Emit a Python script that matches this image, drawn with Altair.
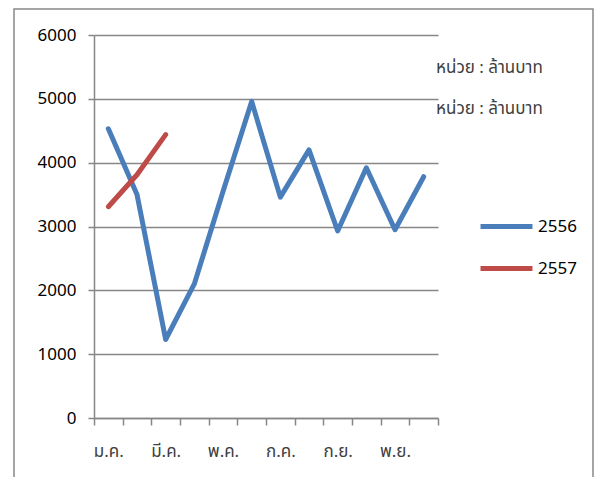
import altair as alt
import pandas as pd

months = ["ม.ค.", "ก.พ.", "มี.ค.", "เม.ย.", "พ.ค.", "มิ.ย.",
          "ก.ค.", "ส.ค.", "ก.ย.", "ต.ค.", "พ.ย.", "ธ.ค."]
shown_months = ["ม.ค.", "มี.ค.", "พ.ค.", "ก.ค.", "ก.ย.", "พ.ย."]
values_2556 = [4530, 3500, 1230, 2100, 3550, 4960, 3460, 4200, 2930, 3920, 2950, 3780]
values_2557 = [3310, 3810, 4440]
series_names = ["2556", "2557"]
series_colors = ["#4a7ebb", "#be4b48"]
y_ticks = [0, 1000, 2000, 3000, 4000, 5000, 6000]
unit_texts = ["หน่วย : ล้านบาท", "หน่วย : ล้านบาท"]

rows = []
for m, v in zip(months, values_2556):
    rows.append({"month": m, "value": v, "series": "2556"})
for m, v in zip(months, values_2557):
    rows.append({"month": m, "value": v, "series": "2557"})
df = pd.DataFrame(rows)

FONT = "Tahoma, 'Noto Sans Thai', 'DejaVu Sans', sans-serif"
GRID = "#878787"

shown_js = "[" + ",".join("'" + s + "'" for s in shown_months) + "]"

lines = alt.Chart(df).mark_line(strokeWidth=5, strokeCap="round", strokeJoin="round").encode(
    x=alt.X("month:N", sort=months, bandPosition=0.5,
            scale=alt.Scale(type="band", domain=months, paddingInner=0, paddingOuter=0),
            axis=alt.Axis(title=None, tickBand="extent", grid=False, domainColor=GRID,
                          domainWidth=1.5, tickColor=GRID, tickWidth=1.5, tickSize=7,
                          labelAngle=0, labelFontSize=17, labelColor="#404040",
                          labelPadding=18, labelFont=FONT,
                          labelExpr="indexof(" + shown_js + ", datum.value) >= 0 ? datum.value : ''")),
    y=alt.Y("value:Q", scale=alt.Scale(domain=[0, 6000], nice=False),
            axis=alt.Axis(title=None, values=y_ticks, format="d", grid=True, gridColor=GRID,
                          gridWidth=1.5, domainColor=GRID, domainWidth=1.5, tickColor=GRID,
                          tickWidth=1.5, tickSize=6, labelFontSize=17, labelColor="#000000",
                          labelPadding=12, labelFont=FONT)),
    color=alt.Color("series:N", scale=alt.Scale(domain=series_names, range=series_colors),
                    legend=alt.Legend(title=None, orient="none", legendX=384, legendY=163,
                                      symbolType="stroke", symbolSize=2700, symbolStrokeWidth=5,
                                      labelFontSize=17, labelColor="#000000", labelFont=FONT,
                                      rowPadding=3, labelOffset=3)),
    detail="series:N",
)

unit1 = alt.Chart(pd.DataFrame({"t": [unit_texts[0]]})).mark_text(
    align="left", baseline="middle", fontSize=17, color="#404040", font=FONT).encode(
    text="t:N", x=alt.value(342), y=alt.value(33))
unit2 = alt.Chart(pd.DataFrame({"t": [unit_texts[1]]})).mark_text(
    align="left", baseline="middle", fontSize=17, color="#404040", font=FONT).encode(
    text="t:N", x=alt.value(342), y=alt.value(74))

frame = alt.Chart(pd.DataFrame({"a": [0]})).mark_rect(
    fill=None, stroke="#888888", strokeWidth=1.5).encode(
    x=alt.value(-80), x2=alt.value(499), y=alt.value(-26), y2=alt.value(470))

chart = alt.layer(frame, lines, unit1, unit2).properties(
    width=344, height=383,
    autosize=alt.AutoSizeParams(type="none"),
    padding={"left": 86, "top": 27, "right": 157, "bottom": 59},
    background="white",
).configure_view(stroke=None)

chart.save("out.html", embed_options={"renderer": "svg", "actions": False})
